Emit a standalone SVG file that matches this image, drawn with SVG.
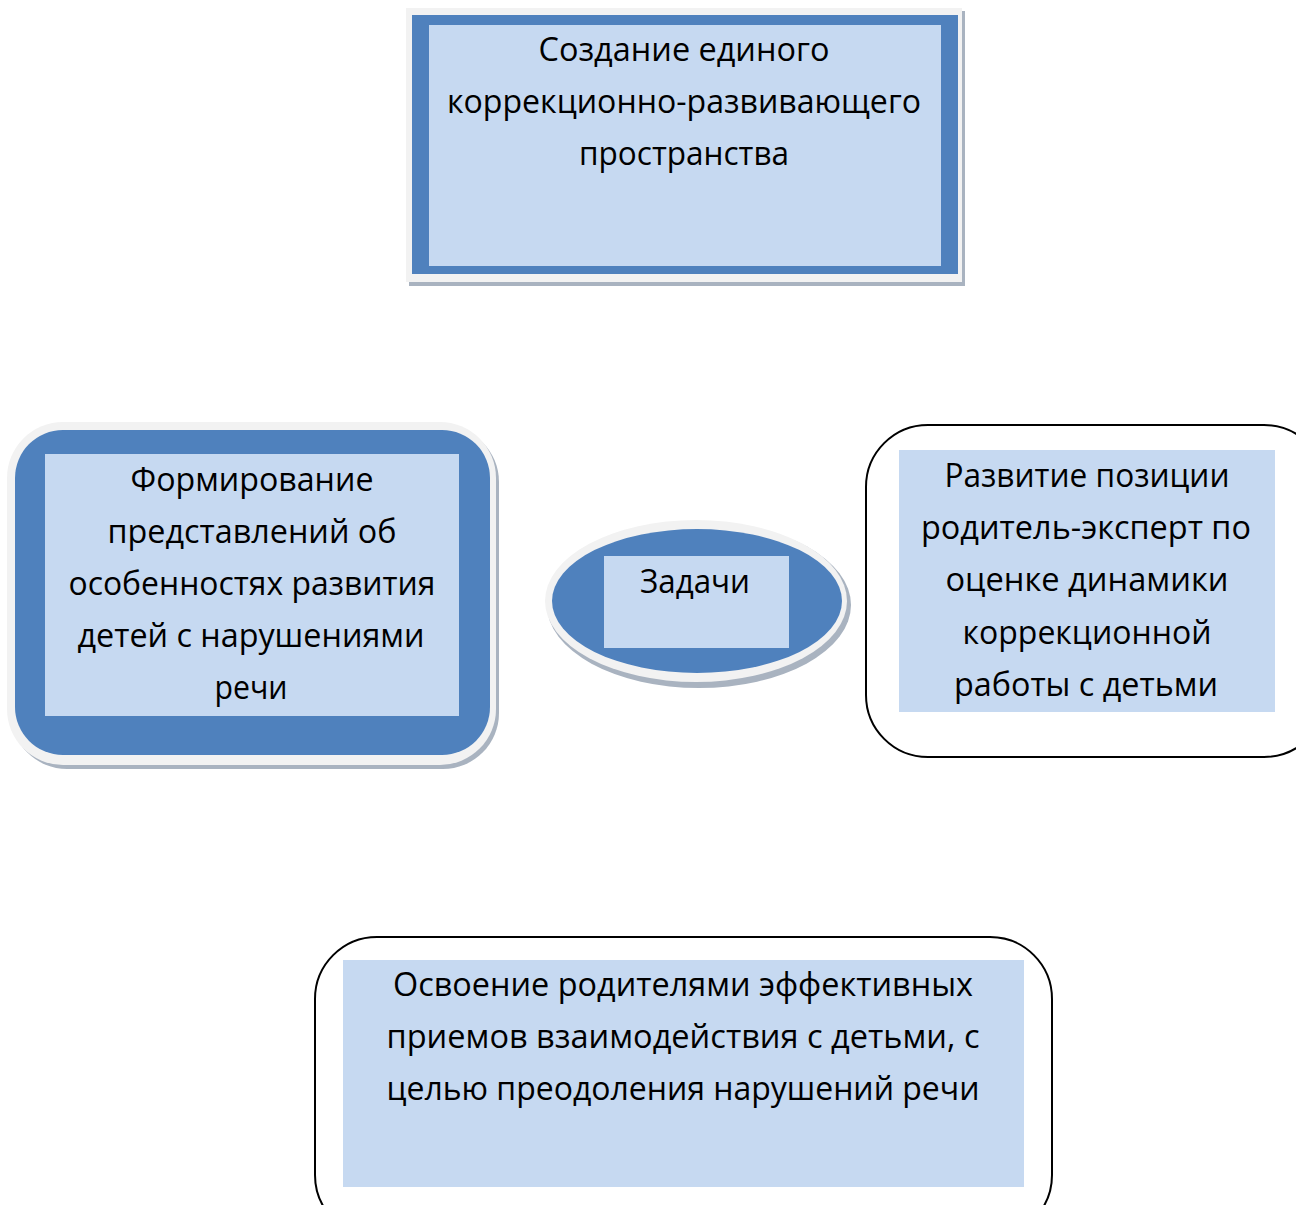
<svg xmlns="http://www.w3.org/2000/svg" width="1296" height="1205" viewBox="0 0 1296 1205">
<style>
.t{font-family:"Open Sans","Noto Sans","DejaVu Sans",sans-serif;font-size:33px;fill:#000;text-anchor:middle}
.blue{fill:#4f81bd}
.light{fill:#c6d9f1}
.halo{fill:#f2f2f2}
.shadow{fill:#a9b3c0}
.outline{fill:#fff;stroke:#000;stroke-width:2}
</style>
<rect width="1296" height="1205" fill="#fff"/>
<g id="connectors"></g>
<g id="node-top">
<rect class="shadow" x="409" y="11" width="556" height="275"/>
<rect class="halo" x="406" y="8" width="556" height="274"/>
<rect class="blue" x="412" y="15" width="546" height="259"/>
<rect class="light" x="429" y="25" width="512" height="241"/>
<text class="t" x="684" y="61" textLength="291" lengthAdjust="spacingAndGlyphs">Создание единого</text>
<text class="t" x="684" y="113" textLength="474" lengthAdjust="spacingAndGlyphs">коррекционно-развивающего</text>
<text class="t" x="684" y="165" textLength="210" lengthAdjust="spacingAndGlyphs">пространства</text>
</g>
<g id="node-left">
<rect class="shadow" x="11" y="426" width="488" height="343" rx="56"/>
<rect class="halo" x="7" y="422" width="489" height="343" rx="56"/>
<rect class="blue" x="15" y="430" width="475" height="325" rx="48"/>
<rect class="light" x="45" y="454" width="414" height="262"/>
<text class="t" x="252" y="491" textLength="243" lengthAdjust="spacingAndGlyphs">Формирование</text>
<text class="t" x="252" y="543" textLength="289" lengthAdjust="spacingAndGlyphs">представлений об</text>
<text class="t" x="252" y="595" textLength="367" lengthAdjust="spacingAndGlyphs">особенностях развития</text>
<text class="t" x="251" y="647" textLength="347" lengthAdjust="spacingAndGlyphs">детей с нарушениями</text>
<text class="t" x="251" y="699" textLength="73" lengthAdjust="spacingAndGlyphs">речи</text>
</g>
<g id="node-center">
<ellipse class="shadow" cx="699" cy="605" rx="152" ry="83"/>
<ellipse class="halo" cx="696" cy="601" rx="151" ry="81"/>
<ellipse class="blue" cx="697" cy="601" rx="145" ry="72"/>
<rect class="light" x="604" y="556" width="185" height="92"/>
<text class="t" x="695" y="593" textLength="110" lengthAdjust="spacingAndGlyphs">Задачи</text>
</g>
<g id="node-right">
<rect class="outline" x="866" y="425" width="460" height="332" rx="62"/>
<rect class="light" x="899" y="450" width="376" height="262"/>
<text class="t" x="1087" y="487" textLength="285" lengthAdjust="spacingAndGlyphs">Развитие позиции</text>
<text class="t" x="1086" y="539" textLength="330" lengthAdjust="spacingAndGlyphs">родитель-эксперт по</text>
<text class="t" x="1087" y="591" textLength="283" lengthAdjust="spacingAndGlyphs">оценке динамики</text>
<text class="t" x="1087" y="644" textLength="249" lengthAdjust="spacingAndGlyphs">коррекционной</text>
<text class="t" x="1086" y="696" textLength="264" lengthAdjust="spacingAndGlyphs">работы с детьми</text>
</g>
<g id="node-bottom">
<rect class="outline" x="315" y="937" width="737" height="300" rx="62"/>
<rect class="light" x="343" y="960" width="681" height="227"/>
<text class="t" x="683" y="996" textLength="580" lengthAdjust="spacingAndGlyphs">Освоение родителями эффективных</text>
<text class="t" x="683" y="1048" textLength="593" lengthAdjust="spacingAndGlyphs">приемов взаимодействия с детьми, с</text>
<text class="t" x="683" y="1100" textLength="593" lengthAdjust="spacingAndGlyphs">целью преодоления нарушений речи</text>
</g>
</svg>
